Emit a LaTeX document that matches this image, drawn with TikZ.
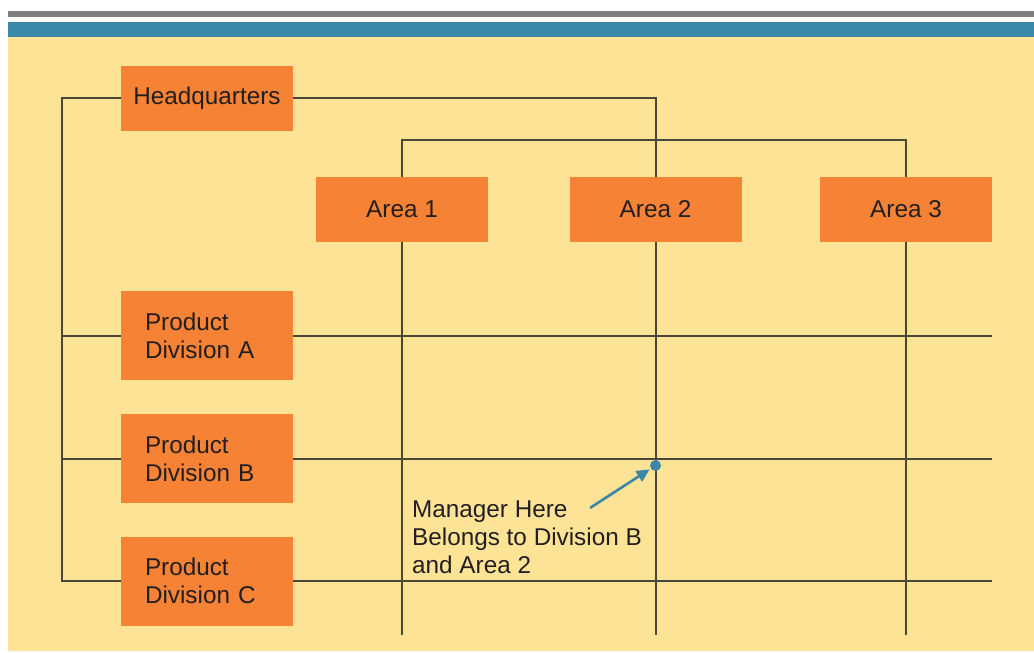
\documentclass[tikz,border=0pt]{standalone}
\usepackage{fontspec}
\setmainfont{Liberation Sans}
\usetikzlibrary{arrows.meta}
\definecolor{bgyellow}{HTML}{FDE395}
\definecolor{topgray}{HTML}{7F7F7F}
\definecolor{topblue}{HTML}{3A87A8}
\definecolor{boxorange}{HTML}{F58235}
\definecolor{linecol}{HTML}{4A4738}
\definecolor{txtcol}{HTML}{231F20}
\tikzset{
  orgbox/.style={fill=boxorange, draw=none, minimum width=172pt, inner sep=0pt, text=txtcol,
    font=\fontsize{24.3}{28}\selectfont},
  areabox/.style={orgbox, minimum height=65pt},
  divbox/.style={orgbox, minimum height=89pt, text width=124pt, align=left},
  conn/.style={draw=linecol, line width=2pt},
  mgrarrow/.style={draw=topblue, line width=2.6pt, -{Triangle[length=13pt,width=12pt]}, shorten >=7pt},
}
\begin{document}
\begin{tikzpicture}[x=1pt,y=-1pt]
\useasboundingbox (0,0) rectangle (1034,653);
\fill[white] (0,0) rectangle (1034,653);
\fill[topgray] (8,11) rectangle (1034,17);
\fill[topblue] (8,22) rectangle (1034,37);
\fill[bgyellow] (8,37) rectangle (1034,651);

\coordinate (lx) at (62,0);
\coordinate (br) at (0,140);
\coordinate (bot) at (0,635);
\coordinate (rend) at (992,0);

\node[areabox] (hq) at (207,98) {Headquarters};
\node[areabox] (a1) at (402,209.5) {Area 1};
\node[areabox] (a2) at (655.5,209.5) {Area 2};
\node[areabox] (a3) at (906,209.5) {Area 3};
\node[divbox] (pa) at (207,335.5) {Product\\Division A};
\node[divbox] (pb) at (207,458.5) {Product\\Division B};
\node[divbox] (pc) at (207,581) {Product\\Division C};

\draw[conn] (hq.west) -- (hq.west -| lx) -- (pc.west -| lx) -- (pc.west);
\draw[conn] (pa.west -| lx) -- (pa.west);
\draw[conn] (pb.west -| lx) -- (pb.west);
\draw[conn] (hq.east) -| (a2.north);
\draw[conn] (a1.north) -- (a1.north |- br) -- (a3.north |- br) -- (a3.north);
\draw[conn] (a1.south) -- (a1.south |- bot);
\draw[conn] (a2.south) -- (a2.south |- bot);
\draw[conn] (a3.south) -- (a3.south |- bot);
\draw[conn] (pa.east) -- (pa.east -| rend);
\draw[conn] (pb.east) -- (pb.east -| rend);
\draw[conn] (pc.east) -- (pc.east -| rend);

\node[circle, fill=topblue, inner sep=0pt, minimum size=11pt] (dot) at (655.5,465.5) {};
\node[anchor=west, align=left, text=txtcol, inner sep=0pt, font=\fontsize{24.3}{28}\selectfont] (mgr) at (412,537.5) {Manager Here\\Belongs to Division B\\and Area 2};
\coordinate (astart) at (590,508);
\draw[mgrarrow] (astart) -- (dot.center);
\end{tikzpicture}
\end{document}
